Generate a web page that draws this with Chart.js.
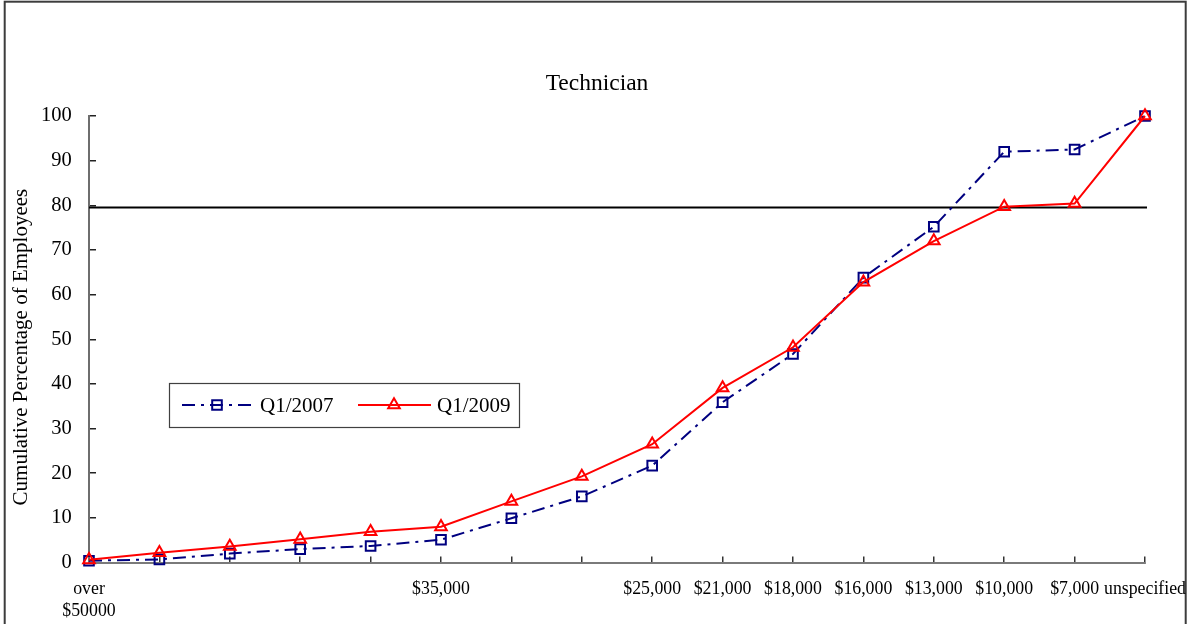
<!DOCTYPE html>
<html>
<head>
<meta charset="utf-8">
<title>Technician</title>
<script src="https://cdn.jsdelivr.net/npm/chart.js@4.4.1/dist/chart.umd.min.js"></script>
<style>
  html, body { margin: 0; padding: 0; background: #ffffff; }
  #wrap { width: 1194px; height: 624px; }
  canvas { display: block; }
</style>
</head>
<body>
<div id="wrap"><canvas id="chart" width="1194" height="624"></canvas></div>
<script>
// Salary bands, highest first; only some bands carry a printed label
const categories = [
  ['over', '$50000'], '', '', '', '', '$35,000', '', '',
  '$25,000', '$21,000', '$18,000', '$16,000', '$13,000', '$10,000', '$7,000', 'unspecified'
];

// Cumulative percentage of employees at or above each band
const q12007 = [0.4, 0.7, 2.0, 3.0, 3.7, 5.1, 9.9, 14.8, 21.7, 35.9, 46.7, 63.8, 75.2, 92.0, 92.5, 100];
const q12009 = [0.6, 2.2, 3.6, 5.2, 6.9, 8.0, 13.7, 19.3, 26.5, 39.1, 48.2, 62.8, 72.0, 79.7, 80.4, 100];

const seriesNames = ['Q1/2007', 'Q1/2009'];
const yTicks = [0, 10, 20, 30, 40, 50, 60, 70, 80, 90, 100];
const referenceLevel = 79.5;

const SERIF = '"Liberation Serif", "Times New Roman", serif';

// Outer frame around the whole chart
const framePlugin = {
  id: 'frame',
  beforeDraw(chart) {
    const ctx = chart.ctx;
    ctx.save();
    ctx.fillStyle = '#ffffff';
    ctx.fillRect(0, 0, chart.width, chart.height);
    ctx.strokeStyle = '#3c3c3c';
    ctx.lineWidth = 2;
    ctx.strokeRect(4.7, 1.7, 1181, 700);
    ctx.restore();
  }
};

// Horizontal reference line across the plot
const referenceLinePlugin = {
  id: 'referenceLine',
  beforeDatasetsDraw(chart) {
    const x = chart.scales.x, y = chart.scales.y;
    const py = y.getPixelForValue(referenceLevel);
    const ctx = chart.ctx;
    ctx.save();
    ctx.strokeStyle = '#000000';
    ctx.lineWidth = 2;
    ctx.beginPath();
    ctx.moveTo(x.left, py);
    ctx.lineTo(x.getPixelForValue(categories.length - 1) + 2, py);
    ctx.stroke();
    ctx.restore();
  }
};

// Boxed legend sitting inside the plot area
const boxLegendPlugin = {
  id: 'boxLegend',
  afterDraw(chart) {
    const ctx = chart.ctx;
    const box = { x: 169, y: 383, w: 350, h: 44 };
    const cy = box.y + box.h / 2;
    const items = [
      { x0: 182, x1: 253, mx: 217, tx: 260 },
      { x0: 358, x1: 431, mx: 394, tx: 437 }
    ];
    ctx.save();
    ctx.fillStyle = '#ffffff';
    ctx.fillRect(box.x, box.y, box.w, box.h);
    ctx.strokeStyle = '#404040';
    ctx.lineWidth = 1.2;
    ctx.strokeRect(box.x + 0.5, box.y + 0.5, box.w, box.h);

    const byLabel = {};
    chart.data.datasets.forEach(ds => { byLabel[ds.label] = ds; });
    seriesNames.forEach((name, i) => {
      const ds = byLabel[name];
      const it = items[i];
      ctx.save();
      ctx.strokeStyle = ds.borderColor;
      ctx.lineWidth = ds.borderWidth;
      ctx.setLineDash(ds.borderDash || []);
      ctx.beginPath();
      ctx.moveTo(it.x0, cy);
      ctx.lineTo(it.x1, cy);
      ctx.stroke();
      ctx.setLineDash([]);
      ctx.lineWidth = ds.pointBorderWidth;
      ctx.strokeStyle = ds.pointBorderColor;
      ctx.fillStyle = 'rgba(0,0,0,0)';
      Chart.helpers.drawPoint(ctx, {
        pointStyle: ds.pointStyle,
        radius: ds.pointRadius,
        rotation: 0,
        borderWidth: ds.pointBorderWidth
      }, it.mx, cy);
      ctx.restore();

      ctx.fillStyle = '#000000';
      ctx.font = '21px ' + SERIF;
      ctx.textBaseline = 'middle';
      ctx.textAlign = 'left';
      ctx.fillText(name, it.tx, cy + 1);
    });
    ctx.restore();
  }
};

new Chart(document.getElementById('chart'), {
  type: 'line',
  data: {
    labels: categories,
    datasets: [
      {
        label: seriesNames[0],
        data: q12007,
        borderColor: '#000080',
        borderWidth: 2,
        borderDash: [13, 6, 3, 6],
        pointStyle: 'rect',
        pointRadius: 6.8,
        pointBorderWidth: 2,
        pointBorderColor: '#000080',
        pointBackgroundColor: 'rgba(0,0,0,0)',
        tension: 0,
        clip: false,
        order: 1
      },
      {
        label: seriesNames[1],
        data: q12009,
        borderColor: '#ff0000',
        borderWidth: 2,
        pointStyle: 'triangle',
        pointRadius: 6.7,
        pointBorderWidth: 2,
        pointBorderColor: '#ff0000',
        pointBackgroundColor: 'rgba(0,0,0,0)',
        tension: 0,
        clip: false,
        order: 0
      }
    ]
  },
  options: {
    responsive: false,
    animation: false,
    events: [],
    layout: { padding: 0 },
    plugins: {
      legend: { display: false },
      tooltip: { enabled: false },
      title: {
        display: true,
        text: 'Technician',
        color: '#000000',
        font: { family: SERIF, size: 23.5, weight: 'normal', lineHeight: 1.2 },
        padding: { top: 69.4, bottom: 18.4 }
      }
    },
    scales: {
      x: {
        type: 'category',
        offset: false,
        grid: {
          drawOnChartArea: false,
          drawTicks: true,
          tickLength: -6,
          color: '#333333',
          lineWidth: 1.5
        },
        border: { display: true, color: '#7a7a7a', width: 2 },
        ticks: {
          autoSkip: false,
          maxRotation: 0,
          minRotation: 0,
          color: '#000000',
          padding: 21.8,
          font: { family: SERIF, size: 17.8, lineHeight: 1.22 }
        },
        afterFit(scale) {
          scale.height = 61.5;
          scale.paddingLeft = 0;
          scale.paddingRight = 49;
        }
      },
      y: {
        min: 0,
        max: 100,
        afterBuildTicks(scale) { scale.ticks = yTicks.map(v => ({ value: v })); },
        grid: {
          drawOnChartArea: false,
          drawTicks: true,
          tickLength: -7,
          color: '#222222',
          lineWidth: 1.5
        },
        border: { display: true, color: '#6e6e6e', width: 2 },
        ticks: {
          color: '#000000',
          padding: 24.3,
          font: { family: SERIF, size: 20.5 }
        },
        title: {
          display: true,
          text: 'Cumulative Percentage of Employees   ',
          color: '#000000',
          font: { family: SERIF, size: 21, weight: 'normal', lineHeight: 1.2 },
          padding: { top: 9, bottom: 0 }
        },
        afterFit(scale) { scale.width = 89; }
      }
    }
  },
  plugins: [framePlugin, referenceLinePlugin, boxLegendPlugin]
});
</script>
</body>
</html>
